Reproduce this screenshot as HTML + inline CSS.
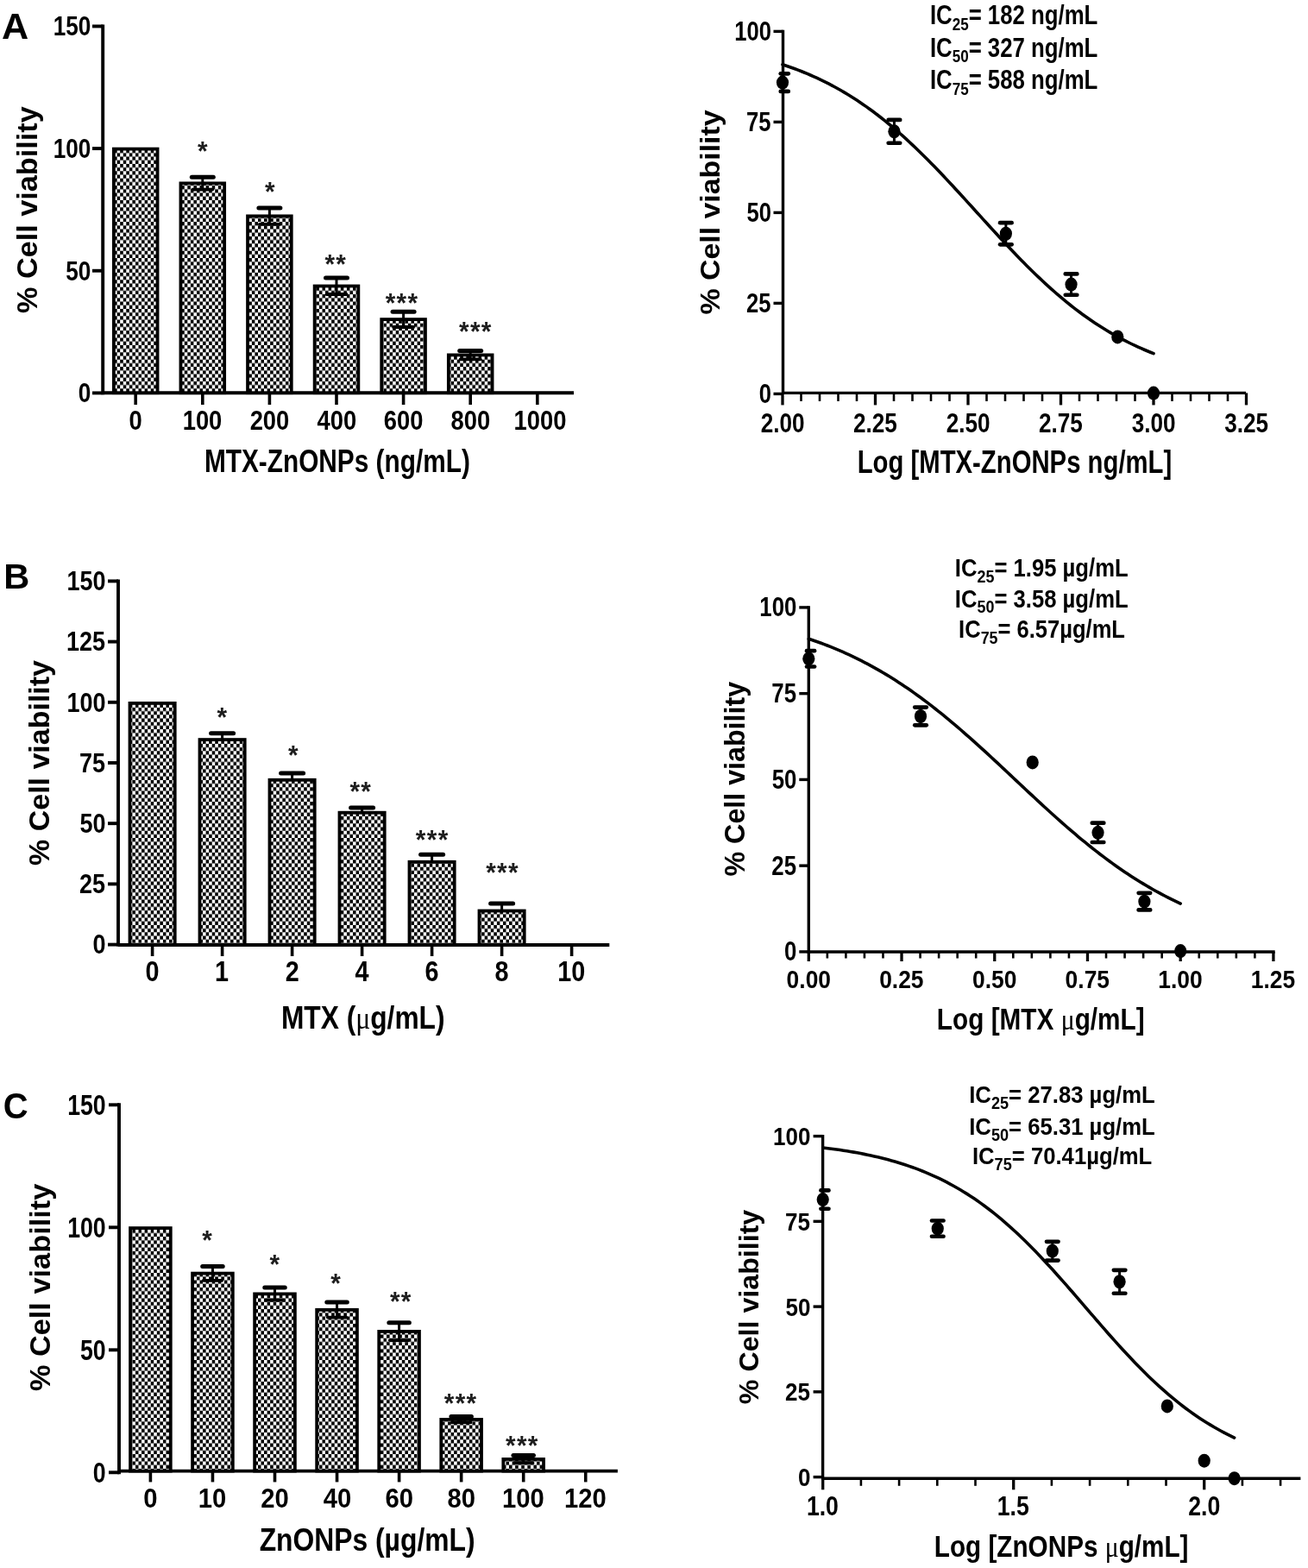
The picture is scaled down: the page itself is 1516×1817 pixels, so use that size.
<!DOCTYPE html>
<html><head><meta charset="utf-8"><title>Cell viability figure</title>
<style>
html,body{margin:0;padding:0;background:#fff;}
svg{display:block;}
svg text{font-family:"Liberation Sans",Arial,sans-serif;font-weight:bold;fill:#000;stroke:none;}
line,polyline{stroke:#000;}
</style></head>
<body>
<svg width="1516" height="1817" viewBox="0 0 1516 1817">
<defs>
<pattern id="chk" x="4.3" y="5.1" width="7.1" height="8.4" patternUnits="userSpaceOnUse">
<rect width="7.1" height="8.4" fill="#fff"/>
<rect x="0" y="0" width="3.55" height="4.2" fill="#000"/>
<rect x="3.55" y="4.2" width="3.55" height="4.2" fill="#000"/>
</pattern>
</defs>
<rect width="1516" height="1817" fill="#fff"/>
<g fill="#000">
<line x1="119.2" y1="28.5" x2="119.2" y2="457.35" stroke-width="3.9" stroke-linecap="butt"/>
<line x1="107" y1="455.4" x2="119.2" y2="455.4" stroke-width="3.9" stroke-linecap="butt"/>
<text x="90.72" y="466.44" font-size="32.2" textLength="14.53" lengthAdjust="spacingAndGlyphs">0</text>
<line x1="107" y1="313.75" x2="119.2" y2="313.75" stroke-width="3.9" stroke-linecap="butt"/>
<text x="76.2" y="324.79" font-size="32.2" textLength="29.05" lengthAdjust="spacingAndGlyphs">50</text>
<line x1="107" y1="172.1" x2="119.2" y2="172.1" stroke-width="3.9" stroke-linecap="butt"/>
<text x="61.68" y="183.14" font-size="32.2" textLength="43.58" lengthAdjust="spacingAndGlyphs">100</text>
<line x1="107" y1="30.45" x2="119.2" y2="30.45" stroke-width="3.9" stroke-linecap="butt"/>
<text x="61.68" y="41.49" font-size="32.2" textLength="43.58" lengthAdjust="spacingAndGlyphs">150</text>
<line x1="119.2" y1="455.2" x2="665" y2="455.2" stroke-width="3.9" stroke-linecap="butt"/>
<line x1="157.2" y1="455.2" x2="157.2" y2="469" stroke-width="3.6" stroke-linecap="butt"/>
<text x="149.6" y="497.5" font-size="32.2" textLength="15.23" lengthAdjust="spacingAndGlyphs">0</text>
<line x1="234.8" y1="455.2" x2="234.8" y2="469" stroke-width="3.6" stroke-linecap="butt"/>
<text x="211.66" y="497.5" font-size="32.2" textLength="45.68" lengthAdjust="spacingAndGlyphs">100</text>
<line x1="312.4" y1="455.2" x2="312.4" y2="469" stroke-width="3.6" stroke-linecap="butt"/>
<text x="289.65" y="497.5" font-size="32.2" textLength="45.68" lengthAdjust="spacingAndGlyphs">200</text>
<line x1="390" y1="455.2" x2="390" y2="469" stroke-width="3.6" stroke-linecap="butt"/>
<text x="367.51" y="497.5" font-size="32.2" textLength="45.68" lengthAdjust="spacingAndGlyphs">400</text>
<line x1="467.6" y1="455.2" x2="467.6" y2="469" stroke-width="3.6" stroke-linecap="butt"/>
<text x="444.82" y="497.5" font-size="32.2" textLength="45.68" lengthAdjust="spacingAndGlyphs">600</text>
<line x1="545.2" y1="455.2" x2="545.2" y2="469" stroke-width="3.6" stroke-linecap="butt"/>
<text x="522.49" y="497.5" font-size="32.2" textLength="45.68" lengthAdjust="spacingAndGlyphs">800</text>
<line x1="622.8" y1="455.2" x2="622.8" y2="469" stroke-width="3.6" stroke-linecap="butt"/>
<text x="595.55" y="497.5" font-size="32.2" textLength="60.91" lengthAdjust="spacingAndGlyphs">1000</text>
<rect x="131.85" y="172.6" width="50.7" height="282.6" fill="url(#chk)" stroke="#000" stroke-width="3.8"/>
<rect x="209.45" y="212.4" width="50.7" height="242.8" fill="url(#chk)" stroke="#000" stroke-width="3.8"/>
<line x1="234.8" y1="205.2" x2="234.8" y2="219.6" stroke-width="3" stroke-linecap="butt"/>
<line x1="223.3" y1="219.6" x2="246.3" y2="219.6" stroke-width="3.8" stroke-linecap="round"/>
<line x1="222.3" y1="205.2" x2="247.3" y2="205.2" stroke-width="5" stroke-linecap="round"/>
<text transform="scale(0.93 1)" x="246.22" y="185.73" font-size="32" style="fill:#1e1e1e">*</text>
<rect x="287.05" y="250.4" width="50.7" height="204.8" fill="url(#chk)" stroke="#000" stroke-width="3.8"/>
<line x1="312.4" y1="240.9" x2="312.4" y2="259.9" stroke-width="3" stroke-linecap="butt"/>
<line x1="300.9" y1="259.9" x2="323.9" y2="259.9" stroke-width="3.8" stroke-linecap="round"/>
<line x1="299.9" y1="240.9" x2="324.9" y2="240.9" stroke-width="5" stroke-linecap="round"/>
<text transform="scale(0.93 1)" x="330.2" y="232.83" font-size="32" style="fill:#1e1e1e">*</text>
<rect x="364.65" y="331.5" width="50.7" height="123.7" fill="url(#chk)" stroke="#000" stroke-width="3.8"/>
<line x1="390" y1="322" x2="390" y2="341" stroke-width="3" stroke-linecap="butt"/>
<line x1="378.5" y1="341" x2="401.5" y2="341" stroke-width="3.8" stroke-linecap="round"/>
<line x1="377.5" y1="322" x2="402.5" y2="322" stroke-width="5" stroke-linecap="round"/>
<text transform="scale(0.93 1)" x="404.77 418.64" y="317.23" font-size="32" style="fill:#1e1e1e">**</text>
<rect x="442.25" y="370.1" width="50.7" height="85.1" fill="url(#chk)" stroke="#000" stroke-width="3.8"/>
<line x1="467.6" y1="361.2" x2="467.6" y2="379" stroke-width="3" stroke-linecap="butt"/>
<line x1="456.1" y1="379" x2="479.1" y2="379" stroke-width="3.8" stroke-linecap="round"/>
<line x1="455.1" y1="361.2" x2="480.1" y2="361.2" stroke-width="5" stroke-linecap="round"/>
<text transform="scale(0.93 1)" x="480.3 494.17 508.05" y="361.83" font-size="32" style="fill:#1e1e1e">***</text>
<rect x="519.85" y="411.4" width="50.7" height="43.8" fill="url(#chk)" stroke="#000" stroke-width="3.8"/>
<line x1="545.2" y1="406.5" x2="545.2" y2="416.3" stroke-width="3" stroke-linecap="butt"/>
<line x1="533.7" y1="416.3" x2="556.7" y2="416.3" stroke-width="3.8" stroke-linecap="round"/>
<line x1="532.7" y1="406.5" x2="557.7" y2="406.5" stroke-width="5" stroke-linecap="round"/>
<text transform="scale(0.93 1)" x="572.13 586 599.87" y="395.23" font-size="32" style="fill:#1e1e1e">***</text>
<text x="236.93" y="547.3" font-size="36.3" textLength="307.93" lengthAdjust="spacingAndGlyphs">MTX-ZnONPs (ng/mL)</text>
<text transform="translate(43.3 362.92) rotate(-90)" font-size="32.7" textLength="239.61" lengthAdjust="spacingAndGlyphs">% Cell viability</text>
<text x="1.96" y="45.3" font-size="43" textLength="31.17" lengthAdjust="spacingAndGlyphs">A</text>
<line x1="907.5" y1="34.7" x2="907.5" y2="457.1" stroke-width="3.4" stroke-linecap="butt"/>
<line x1="896.5" y1="456.4" x2="907.5" y2="456.4" stroke-width="3.4" stroke-linecap="butt"/>
<text x="879.69" y="467.17" font-size="31.4" textLength="14.24" lengthAdjust="spacingAndGlyphs">0</text>
<line x1="896.5" y1="351.4" x2="907.5" y2="351.4" stroke-width="3.4" stroke-linecap="butt"/>
<text x="865.12" y="362.17" font-size="31.4" textLength="28.48" lengthAdjust="spacingAndGlyphs">25</text>
<line x1="896.5" y1="246.4" x2="907.5" y2="246.4" stroke-width="3.4" stroke-linecap="butt"/>
<text x="865.45" y="257.17" font-size="31.4" textLength="28.48" lengthAdjust="spacingAndGlyphs">50</text>
<line x1="896.5" y1="141.4" x2="907.5" y2="141.4" stroke-width="3.4" stroke-linecap="butt"/>
<text x="865.12" y="152.17" font-size="31.4" textLength="28.48" lengthAdjust="spacingAndGlyphs">75</text>
<line x1="896.5" y1="36.4" x2="907.5" y2="36.4" stroke-width="3.4" stroke-linecap="butt"/>
<text x="851.21" y="47.17" font-size="31.4" textLength="42.72" lengthAdjust="spacingAndGlyphs">100</text>
<line x1="907.5" y1="455.4" x2="1444" y2="455.4" stroke-width="3.4" stroke-linecap="butt"/>
<line x1="928.5" y1="455.4" x2="928.5" y2="464.9" stroke-width="2.6" stroke-linecap="butt"/>
<line x1="950" y1="455.4" x2="950" y2="464.9" stroke-width="2.6" stroke-linecap="butt"/>
<line x1="971.5" y1="455.4" x2="971.5" y2="464.9" stroke-width="2.6" stroke-linecap="butt"/>
<line x1="993" y1="455.4" x2="993" y2="464.9" stroke-width="2.6" stroke-linecap="butt"/>
<line x1="1036" y1="455.4" x2="1036" y2="464.9" stroke-width="2.6" stroke-linecap="butt"/>
<line x1="1057.5" y1="455.4" x2="1057.5" y2="464.9" stroke-width="2.6" stroke-linecap="butt"/>
<line x1="1079" y1="455.4" x2="1079" y2="464.9" stroke-width="2.6" stroke-linecap="butt"/>
<line x1="1100.5" y1="455.4" x2="1100.5" y2="464.9" stroke-width="2.6" stroke-linecap="butt"/>
<line x1="1143.5" y1="455.4" x2="1143.5" y2="464.9" stroke-width="2.6" stroke-linecap="butt"/>
<line x1="1165" y1="455.4" x2="1165" y2="464.9" stroke-width="2.6" stroke-linecap="butt"/>
<line x1="1186.5" y1="455.4" x2="1186.5" y2="464.9" stroke-width="2.6" stroke-linecap="butt"/>
<line x1="1208" y1="455.4" x2="1208" y2="464.9" stroke-width="2.6" stroke-linecap="butt"/>
<line x1="1251" y1="455.4" x2="1251" y2="464.9" stroke-width="2.6" stroke-linecap="butt"/>
<line x1="1272.5" y1="455.4" x2="1272.5" y2="464.9" stroke-width="2.6" stroke-linecap="butt"/>
<line x1="1294" y1="455.4" x2="1294" y2="464.9" stroke-width="2.6" stroke-linecap="butt"/>
<line x1="1315.5" y1="455.4" x2="1315.5" y2="464.9" stroke-width="2.6" stroke-linecap="butt"/>
<line x1="1358.5" y1="455.4" x2="1358.5" y2="464.9" stroke-width="2.6" stroke-linecap="butt"/>
<line x1="1380" y1="455.4" x2="1380" y2="464.9" stroke-width="2.6" stroke-linecap="butt"/>
<line x1="1401.5" y1="455.4" x2="1401.5" y2="464.9" stroke-width="2.6" stroke-linecap="butt"/>
<line x1="1423" y1="455.4" x2="1423" y2="464.9" stroke-width="2.6" stroke-linecap="butt"/>
<line x1="907" y1="455.4" x2="907" y2="469.4" stroke-width="3.3" stroke-linecap="butt"/>
<text x="881.66" y="501.4" font-size="31.4" textLength="50.84" lengthAdjust="spacingAndGlyphs">2.00</text>
<line x1="1014.5" y1="455.4" x2="1014.5" y2="469.4" stroke-width="3.3" stroke-linecap="butt"/>
<text x="988.99" y="501.4" font-size="31.4" textLength="50.84" lengthAdjust="spacingAndGlyphs">2.25</text>
<line x1="1122" y1="455.4" x2="1122" y2="469.4" stroke-width="3.3" stroke-linecap="butt"/>
<text x="1096.66" y="501.4" font-size="31.4" textLength="50.84" lengthAdjust="spacingAndGlyphs">2.50</text>
<line x1="1229.5" y1="455.4" x2="1229.5" y2="469.4" stroke-width="3.3" stroke-linecap="butt"/>
<text x="1203.99" y="501.4" font-size="31.4" textLength="50.84" lengthAdjust="spacingAndGlyphs">2.75</text>
<line x1="1337" y1="455.4" x2="1337" y2="469.4" stroke-width="3.3" stroke-linecap="butt"/>
<text x="1311.82" y="501.4" font-size="31.4" textLength="50.84" lengthAdjust="spacingAndGlyphs">3.00</text>
<line x1="1444.5" y1="455.4" x2="1444.5" y2="469.4" stroke-width="3.3" stroke-linecap="butt"/>
<text x="1419.15" y="501.4" font-size="31.4" textLength="50.84" lengthAdjust="spacingAndGlyphs">3.25</text>
<polyline points="907,74.78 910.58,75.97 914.17,77.2 917.75,78.47 921.33,79.78 924.92,81.13 928.5,82.53 932.08,83.97 935.67,85.45 939.25,86.98 942.83,88.56 946.42,90.19 950,91.86 953.58,93.58 957.17,95.36 960.75,97.19 964.33,99.06 967.92,101 971.5,102.98 975.08,105.02 978.67,107.12 982.25,109.27 985.83,111.48 989.42,113.75 993,116.07 996.58,118.45 1000.17,120.89 1003.75,123.39 1007.33,125.95 1010.92,128.57 1014.5,131.24 1018.08,133.98 1021.67,136.77 1025.25,139.62 1028.83,142.53 1032.42,145.5 1036,148.53 1039.58,151.61 1043.17,154.75 1046.75,157.94 1050.33,161.19 1053.92,164.49 1057.5,167.84 1061.08,171.24 1064.67,174.69 1068.25,178.18 1071.83,181.72 1075.42,185.31 1079,188.94 1082.58,192.6 1086.17,196.3 1089.75,200.04 1093.33,203.81 1096.92,207.62 1100.5,211.44 1104.08,215.3 1107.67,219.17 1111.25,223.07 1114.83,226.98 1118.42,230.91 1122,234.85 1125.58,238.8 1129.17,242.75 1132.75,246.7 1136.33,250.65 1139.92,254.6 1143.5,258.55 1147.08,262.48 1150.67,266.4 1154.25,270.3 1157.83,274.19 1161.42,278.06 1165,281.9 1168.58,285.72 1172.17,289.5 1175.75,293.26 1179.33,296.98 1182.92,300.67 1186.5,304.31 1190.08,307.92 1193.67,311.48 1197.25,315 1200.83,318.48 1204.42,321.9 1208,325.28 1211.58,328.61 1215.17,331.88 1218.75,335.1 1222.33,338.27 1225.92,341.38 1229.5,344.43 1233.08,347.43 1236.67,350.37 1240.25,353.26 1243.83,356.08 1247.42,358.85 1251,361.55 1254.58,364.2 1258.17,366.79 1261.75,369.32 1265.33,371.79 1268.92,374.2 1272.5,376.56 1276.08,378.85 1279.67,381.09 1283.25,383.27 1286.83,385.4 1290.42,387.47 1294,389.48 1297.58,391.44 1301.17,393.35 1304.75,395.2 1308.33,397 1311.92,398.75 1315.5,400.45 1319.08,402.1 1322.67,403.7 1326.25,405.26 1329.83,406.77 1333.42,408.23 1337,409.65" fill="none" stroke-width="3.6" stroke-linejoin="round" stroke-linecap="round"/>
<line x1="907" y1="85.33" x2="907" y2="105.91" stroke-width="3" stroke-linecap="butt"/>
<line x1="904.7" y1="85.33" x2="913.8" y2="85.33" stroke-width="4.6" stroke-linecap="round"/>
<line x1="904.7" y1="105.91" x2="913.8" y2="105.91" stroke-width="4.6" stroke-linecap="round"/>
<ellipse cx="907" cy="95.62" rx="7.1" ry="8"/>
<line x1="1036.43" y1="138.88" x2="1036.43" y2="165.76" stroke-width="3" stroke-linecap="butt"/>
<line x1="1029.63" y1="138.88" x2="1043.23" y2="138.88" stroke-width="4.6" stroke-linecap="round"/>
<line x1="1029.63" y1="165.76" x2="1043.23" y2="165.76" stroke-width="4.6" stroke-linecap="round"/>
<ellipse cx="1036.43" cy="152.32" rx="7.1" ry="8"/>
<line x1="1165.86" y1="258.16" x2="1165.86" y2="283.36" stroke-width="3" stroke-linecap="butt"/>
<line x1="1159.06" y1="258.16" x2="1172.66" y2="258.16" stroke-width="4.6" stroke-linecap="round"/>
<line x1="1159.06" y1="283.36" x2="1172.66" y2="283.36" stroke-width="4.6" stroke-linecap="round"/>
<ellipse cx="1165.86" cy="270.76" rx="7.1" ry="8"/>
<line x1="1241.54" y1="317.38" x2="1241.54" y2="341.74" stroke-width="3" stroke-linecap="butt"/>
<line x1="1234.74" y1="317.38" x2="1248.34" y2="317.38" stroke-width="4.6" stroke-linecap="round"/>
<line x1="1234.74" y1="341.74" x2="1248.34" y2="341.74" stroke-width="4.6" stroke-linecap="round"/>
<ellipse cx="1241.54" cy="329.56" rx="7.1" ry="8"/>
<ellipse cx="1295.29" cy="390.46" rx="7.1" ry="8"/>
<ellipse cx="1337" cy="455.56" rx="7.1" ry="8"/>
<text transform="translate(1077.9 28.2) scale(0.8268 1)" font-size="31.2">IC<tspan font-size="20.6" dy="6.4">25</tspan><tspan dy="-6.4">= 182 ng/mL</tspan></text>
<text transform="translate(1077.9 65.7) scale(0.8268 1)" font-size="31.2">IC<tspan font-size="20.6" dy="6.4">50</tspan><tspan dy="-6.4">= 327 ng/mL</tspan></text>
<text transform="translate(1077.9 103.4) scale(0.8268 1)" font-size="31.2">IC<tspan font-size="20.6" dy="6.4">75</tspan><tspan dy="-6.4">= 588 ng/mL</tspan></text>
<text x="993.67" y="548" font-size="36.8" textLength="364.59" lengthAdjust="spacingAndGlyphs">Log [MTX-ZnONPs ng/mL]</text>
<text transform="translate(833.8 364.61) rotate(-90)" font-size="32" textLength="237.2" lengthAdjust="spacingAndGlyphs">% Cell viability</text>
<line x1="137" y1="671.45" x2="137" y2="1096.55" stroke-width="3.9" stroke-linecap="butt"/>
<line x1="125" y1="1094.6" x2="137" y2="1094.6" stroke-width="3.9" stroke-linecap="butt"/>
<text x="107.46" y="1105.44" font-size="31.6" textLength="15.02" lengthAdjust="spacingAndGlyphs">0</text>
<line x1="125" y1="1024.4" x2="137" y2="1024.4" stroke-width="3.9" stroke-linecap="butt"/>
<text x="92.09" y="1035.24" font-size="31.6" textLength="30.05" lengthAdjust="spacingAndGlyphs">25</text>
<line x1="125" y1="954.2" x2="137" y2="954.2" stroke-width="3.9" stroke-linecap="butt"/>
<text x="92.44" y="965.04" font-size="31.6" textLength="30.05" lengthAdjust="spacingAndGlyphs">50</text>
<line x1="125" y1="884" x2="137" y2="884" stroke-width="3.9" stroke-linecap="butt"/>
<text x="92.09" y="894.84" font-size="31.6" textLength="30.05" lengthAdjust="spacingAndGlyphs">75</text>
<line x1="125" y1="813.8" x2="137" y2="813.8" stroke-width="3.9" stroke-linecap="butt"/>
<text x="77.43" y="824.64" font-size="31.6" textLength="45.07" lengthAdjust="spacingAndGlyphs">100</text>
<line x1="125" y1="743.6" x2="137" y2="743.6" stroke-width="3.9" stroke-linecap="butt"/>
<text x="77.07" y="754.44" font-size="31.6" textLength="45.07" lengthAdjust="spacingAndGlyphs">125</text>
<line x1="125" y1="673.4" x2="137" y2="673.4" stroke-width="3.9" stroke-linecap="butt"/>
<text x="77.43" y="684.24" font-size="31.6" textLength="45.07" lengthAdjust="spacingAndGlyphs">150</text>
<line x1="137" y1="1095" x2="706.3" y2="1095" stroke-width="3.9" stroke-linecap="butt"/>
<line x1="176.6" y1="1095" x2="176.6" y2="1108" stroke-width="3.6" stroke-linecap="butt"/>
<text x="168.6" y="1137" font-size="32.3" textLength="16.02" lengthAdjust="spacingAndGlyphs">0</text>
<line x1="257.6" y1="1095" x2="257.6" y2="1108" stroke-width="3.6" stroke-linecap="butt"/>
<text x="249.09" y="1137" font-size="32.3" textLength="16.02" lengthAdjust="spacingAndGlyphs">1</text>
<line x1="338.6" y1="1095" x2="338.6" y2="1108" stroke-width="3.6" stroke-linecap="butt"/>
<text x="330.66" y="1137" font-size="32.3" textLength="16.02" lengthAdjust="spacingAndGlyphs">2</text>
<line x1="419.6" y1="1095" x2="419.6" y2="1108" stroke-width="3.6" stroke-linecap="butt"/>
<text x="411.45" y="1137" font-size="32.3" textLength="16.02" lengthAdjust="spacingAndGlyphs">4</text>
<line x1="500.6" y1="1095" x2="500.6" y2="1108" stroke-width="3.6" stroke-linecap="butt"/>
<text x="492.58" y="1137" font-size="32.3" textLength="16.02" lengthAdjust="spacingAndGlyphs">6</text>
<line x1="581.6" y1="1095" x2="581.6" y2="1108" stroke-width="3.6" stroke-linecap="butt"/>
<text x="573.58" y="1137" font-size="32.3" textLength="16.02" lengthAdjust="spacingAndGlyphs">8</text>
<line x1="662.6" y1="1095" x2="662.6" y2="1108" stroke-width="3.6" stroke-linecap="butt"/>
<text x="646.26" y="1137" font-size="32.3" textLength="32.05" lengthAdjust="spacingAndGlyphs">10</text>
<rect x="150.5" y="814.9" width="52.2" height="280.1" fill="url(#chk)" stroke="#000" stroke-width="3.8"/>
<rect x="231.5" y="857.1" width="52.2" height="237.9" fill="url(#chk)" stroke="#000" stroke-width="3.8"/>
<line x1="257.6" y1="849.8" x2="257.6" y2="857.1" stroke-width="3" stroke-linecap="butt"/>
<line x1="244.6" y1="849.8" x2="270.6" y2="849.8" stroke-width="5" stroke-linecap="round"/>
<text transform="scale(0.93 1)" x="270.52" y="841.83" font-size="32" style="fill:#1e1e1e">*</text>
<rect x="312.5" y="903.8" width="52.2" height="191.2" fill="url(#chk)" stroke="#000" stroke-width="3.8"/>
<line x1="338.6" y1="896" x2="338.6" y2="903.8" stroke-width="3" stroke-linecap="butt"/>
<line x1="325.6" y1="896" x2="351.6" y2="896" stroke-width="5" stroke-linecap="round"/>
<text transform="scale(0.93 1)" x="359.12" y="885.53" font-size="32" style="fill:#1e1e1e">*</text>
<rect x="393.5" y="941.7" width="52.2" height="153.3" fill="url(#chk)" stroke="#000" stroke-width="3.8"/>
<line x1="419.6" y1="936" x2="419.6" y2="941.7" stroke-width="3" stroke-linecap="butt"/>
<line x1="406.6" y1="936" x2="432.6" y2="936" stroke-width="5" stroke-linecap="round"/>
<text transform="scale(0.93 1)" x="435.95 449.82" y="928.43" font-size="32" style="fill:#1e1e1e">**</text>
<rect x="474.5" y="998.8" width="52.2" height="96.2" fill="url(#chk)" stroke="#000" stroke-width="3.8"/>
<line x1="500.6" y1="990.2" x2="500.6" y2="998.8" stroke-width="3" stroke-linecap="butt"/>
<line x1="487.6" y1="990.2" x2="513.6" y2="990.2" stroke-width="5" stroke-linecap="round"/>
<text transform="scale(0.93 1)" x="518.15 532.02 545.89" y="984.03" font-size="32" style="fill:#1e1e1e">***</text>
<rect x="555.5" y="1055.5" width="52.2" height="39.5" fill="url(#chk)" stroke="#000" stroke-width="3.8"/>
<line x1="581.6" y1="1047.1" x2="581.6" y2="1055.5" stroke-width="3" stroke-linecap="butt"/>
<line x1="568.6" y1="1047.1" x2="594.6" y2="1047.1" stroke-width="5" stroke-linecap="round"/>
<text transform="scale(0.93 1)" x="605.57 619.44 633.31" y="1022.33" font-size="32" style="fill:#1e1e1e">***</text>
<text x="325.92" y="1191.6" font-size="36.5" textLength="189.61" lengthAdjust="spacingAndGlyphs">MTX (<tspan style="font-family:'Liberation Serif',serif;font-weight:normal;stroke:none">μ</tspan>g/mL)</text>
<text transform="translate(57.3 1002.92) rotate(-90)" font-size="33" textLength="237.9" lengthAdjust="spacingAndGlyphs">% Cell viability</text>
<text x="4.36" y="681.7" font-size="41.4" textLength="30.02" lengthAdjust="spacingAndGlyphs">B</text>
<line x1="937.3" y1="702.2" x2="937.3" y2="1104.7" stroke-width="3.4" stroke-linecap="butt"/>
<line x1="926.3" y1="1102.9" x2="937.3" y2="1102.9" stroke-width="3.4" stroke-linecap="butt"/>
<text x="908.99" y="1113.46" font-size="30.8" textLength="14.35" lengthAdjust="spacingAndGlyphs">0</text>
<line x1="926.3" y1="1003.15" x2="937.3" y2="1003.15" stroke-width="3.4" stroke-linecap="butt"/>
<text x="894.31" y="1013.71" font-size="30.8" textLength="28.7" lengthAdjust="spacingAndGlyphs">25</text>
<line x1="926.3" y1="903.4" x2="937.3" y2="903.4" stroke-width="3.4" stroke-linecap="butt"/>
<text x="894.64" y="913.96" font-size="30.8" textLength="28.7" lengthAdjust="spacingAndGlyphs">50</text>
<line x1="926.3" y1="803.65" x2="937.3" y2="803.65" stroke-width="3.4" stroke-linecap="butt"/>
<text x="894.31" y="814.21" font-size="30.8" textLength="28.7" lengthAdjust="spacingAndGlyphs">75</text>
<line x1="926.3" y1="703.9" x2="937.3" y2="703.9" stroke-width="3.4" stroke-linecap="butt"/>
<text x="880.3" y="714.46" font-size="30.8" textLength="43.04" lengthAdjust="spacingAndGlyphs">100</text>
<line x1="937.3" y1="1103" x2="1477.7" y2="1103" stroke-width="3.4" stroke-linecap="butt"/>
<line x1="958.84" y1="1103" x2="958.84" y2="1110.5" stroke-width="2.6" stroke-linecap="butt"/>
<line x1="980.39" y1="1103" x2="980.39" y2="1110.5" stroke-width="2.6" stroke-linecap="butt"/>
<line x1="1001.93" y1="1103" x2="1001.93" y2="1110.5" stroke-width="2.6" stroke-linecap="butt"/>
<line x1="1023.48" y1="1103" x2="1023.48" y2="1110.5" stroke-width="2.6" stroke-linecap="butt"/>
<line x1="1066.57" y1="1103" x2="1066.57" y2="1110.5" stroke-width="2.6" stroke-linecap="butt"/>
<line x1="1088.12" y1="1103" x2="1088.12" y2="1110.5" stroke-width="2.6" stroke-linecap="butt"/>
<line x1="1109.66" y1="1103" x2="1109.66" y2="1110.5" stroke-width="2.6" stroke-linecap="butt"/>
<line x1="1131.2" y1="1103" x2="1131.2" y2="1110.5" stroke-width="2.6" stroke-linecap="butt"/>
<line x1="1174.3" y1="1103" x2="1174.3" y2="1110.5" stroke-width="2.6" stroke-linecap="butt"/>
<line x1="1195.84" y1="1103" x2="1195.84" y2="1110.5" stroke-width="2.6" stroke-linecap="butt"/>
<line x1="1217.38" y1="1103" x2="1217.38" y2="1110.5" stroke-width="2.6" stroke-linecap="butt"/>
<line x1="1238.93" y1="1103" x2="1238.93" y2="1110.5" stroke-width="2.6" stroke-linecap="butt"/>
<line x1="1282.02" y1="1103" x2="1282.02" y2="1110.5" stroke-width="2.6" stroke-linecap="butt"/>
<line x1="1303.57" y1="1103" x2="1303.57" y2="1110.5" stroke-width="2.6" stroke-linecap="butt"/>
<line x1="1325.11" y1="1103" x2="1325.11" y2="1110.5" stroke-width="2.6" stroke-linecap="butt"/>
<line x1="1346.65" y1="1103" x2="1346.65" y2="1110.5" stroke-width="2.6" stroke-linecap="butt"/>
<line x1="1389.74" y1="1103" x2="1389.74" y2="1110.5" stroke-width="2.6" stroke-linecap="butt"/>
<line x1="1411.29" y1="1103" x2="1411.29" y2="1110.5" stroke-width="2.6" stroke-linecap="butt"/>
<line x1="1432.84" y1="1103" x2="1432.84" y2="1110.5" stroke-width="2.6" stroke-linecap="butt"/>
<line x1="1454.38" y1="1103" x2="1454.38" y2="1110.5" stroke-width="2.6" stroke-linecap="butt"/>
<line x1="937.3" y1="1103" x2="937.3" y2="1114" stroke-width="3.3" stroke-linecap="butt"/>
<text x="911.62" y="1144.7" font-size="30.2" textLength="51.39" lengthAdjust="spacingAndGlyphs">0.00</text>
<line x1="1045.02" y1="1103" x2="1045.02" y2="1114" stroke-width="3.3" stroke-linecap="butt"/>
<text x="1019.17" y="1144.7" font-size="30.2" textLength="51.39" lengthAdjust="spacingAndGlyphs">0.25</text>
<line x1="1152.75" y1="1103" x2="1152.75" y2="1114" stroke-width="3.3" stroke-linecap="butt"/>
<text x="1127.07" y="1144.7" font-size="30.2" textLength="51.39" lengthAdjust="spacingAndGlyphs">0.50</text>
<line x1="1260.47" y1="1103" x2="1260.47" y2="1114" stroke-width="3.3" stroke-linecap="butt"/>
<text x="1234.62" y="1144.7" font-size="30.2" textLength="51.39" lengthAdjust="spacingAndGlyphs">0.75</text>
<line x1="1368.2" y1="1103" x2="1368.2" y2="1114" stroke-width="3.3" stroke-linecap="butt"/>
<text x="1342.22" y="1144.7" font-size="30.2" textLength="51.39" lengthAdjust="spacingAndGlyphs">1.00</text>
<line x1="1475.92" y1="1103" x2="1475.92" y2="1114" stroke-width="3.3" stroke-linecap="butt"/>
<text x="1449.77" y="1144.7" font-size="30.2" textLength="51.39" lengthAdjust="spacingAndGlyphs">1.25</text>
<polyline points="937.3,740.24 940.89,741.45 944.48,742.7 948.07,743.98 951.66,745.29 955.25,746.63 958.84,748.02 962.44,749.43 966.03,750.89 969.62,752.38 973.21,753.91 976.8,755.47 980.39,757.08 983.98,758.72 987.57,760.41 991.16,762.13 994.75,763.89 998.34,765.7 1001.93,767.54 1005.53,769.43 1009.12,771.36 1012.71,773.33 1016.3,775.35 1019.89,777.4 1023.48,779.5 1027.07,781.64 1030.66,783.83 1034.25,786.06 1037.84,788.33 1041.43,790.65 1045.02,793.01 1048.62,795.41 1052.21,797.85 1055.8,800.34 1059.39,802.87 1062.98,805.44 1066.57,808.06 1070.16,810.71 1073.75,813.4 1077.34,816.14 1080.93,818.91 1084.52,821.73 1088.12,824.58 1091.71,827.47 1095.3,830.39 1098.89,833.35 1102.48,836.34 1106.07,839.37 1109.66,842.42 1113.25,845.51 1116.84,848.63 1120.43,851.78 1124.02,854.95 1127.61,858.14 1131.2,861.37 1134.8,864.61 1138.39,867.87 1141.98,871.15 1145.57,874.45 1149.16,877.77 1152.75,881.1 1156.34,884.44 1159.93,887.79 1163.52,891.15 1167.11,894.51 1170.7,897.88 1174.3,901.25 1177.89,904.63 1181.48,908 1185.07,911.37 1188.66,914.73 1192.25,918.09 1195.84,921.44 1199.43,924.78 1203.02,928.11 1206.61,931.42 1210.2,934.72 1213.79,938 1217.38,941.27 1220.98,944.51 1224.57,947.73 1228.16,950.92 1231.75,954.09 1235.34,957.24 1238.93,960.35 1242.52,963.44 1246.11,966.49 1249.7,969.52 1253.29,972.51 1256.88,975.46 1260.47,978.39 1264.07,981.27 1267.66,984.12 1271.25,986.93 1274.84,989.7 1278.43,992.43 1282.02,995.13 1285.61,997.78 1289.2,1000.39 1292.79,1002.96 1296.38,1005.49 1299.97,1007.97 1303.57,1010.41 1307.16,1012.81 1310.75,1015.17 1314.34,1017.48 1317.93,1019.75 1321.52,1021.98 1325.11,1024.16 1328.7,1026.3 1332.29,1028.4 1335.88,1030.45 1339.47,1032.46 1343.06,1034.43 1346.65,1036.36 1350.25,1038.24 1353.84,1040.08 1357.43,1041.89 1361.02,1043.65 1364.61,1045.37 1368.2,1047.05" fill="none" stroke-width="3.6" stroke-linejoin="round" stroke-linecap="round"/>
<line x1="937.3" y1="754.17" x2="937.3" y2="772.53" stroke-width="3" stroke-linecap="butt"/>
<line x1="935" y1="754.17" x2="944.1" y2="754.17" stroke-width="4.6" stroke-linecap="round"/>
<line x1="935" y1="772.53" x2="944.1" y2="772.53" stroke-width="4.6" stroke-linecap="round"/>
<ellipse cx="937.3" cy="763.35" rx="7.1" ry="8"/>
<line x1="1067" y1="819.61" x2="1067" y2="840.36" stroke-width="3" stroke-linecap="butt"/>
<line x1="1060.2" y1="819.61" x2="1073.8" y2="819.61" stroke-width="4.6" stroke-linecap="round"/>
<line x1="1060.2" y1="840.36" x2="1073.8" y2="840.36" stroke-width="4.6" stroke-linecap="round"/>
<ellipse cx="1067" cy="829.98" rx="7.1" ry="8"/>
<ellipse cx="1196.7" cy="883.45" rx="7.1" ry="8"/>
<line x1="1272.54" y1="953.67" x2="1272.54" y2="976.02" stroke-width="3" stroke-linecap="butt"/>
<line x1="1265.74" y1="953.67" x2="1279.34" y2="953.67" stroke-width="4.6" stroke-linecap="round"/>
<line x1="1265.74" y1="976.02" x2="1279.34" y2="976.02" stroke-width="4.6" stroke-linecap="round"/>
<ellipse cx="1272.54" cy="964.85" rx="7.1" ry="8"/>
<line x1="1326.4" y1="1034.87" x2="1326.4" y2="1054.42" stroke-width="3" stroke-linecap="butt"/>
<line x1="1319.6" y1="1034.87" x2="1333.2" y2="1034.87" stroke-width="4.6" stroke-linecap="round"/>
<line x1="1319.6" y1="1054.42" x2="1333.2" y2="1054.42" stroke-width="4.6" stroke-linecap="round"/>
<ellipse cx="1326.4" cy="1044.65" rx="7.1" ry="8"/>
<ellipse cx="1368.2" cy="1102.1" rx="7.1" ry="8"/>
<text transform="translate(1106.81 668.3) scale(0.8975 1)" font-size="28.6">IC<tspan font-size="20" dy="6.5">25</tspan><tspan dy="-6.5">= 1.95 µg/mL</tspan></text>
<text transform="translate(1106.81 703.8) scale(0.8975 1)" font-size="28.6">IC<tspan font-size="20" dy="6.5">50</tspan><tspan dy="-6.5">= 3.58 µg/mL</tspan></text>
<text transform="translate(1111.11 739.2) scale(0.8930 1)" font-size="28.6">IC<tspan font-size="20" dy="6.5">75</tspan><tspan dy="-6.5">= 6.57µg/mL</tspan></text>
<text x="1085.85" y="1193" font-size="34.2" textLength="240.81" lengthAdjust="spacingAndGlyphs">Log [MTX <tspan style="font-family:'Liberation Serif',serif;font-weight:normal;stroke:none">μ</tspan>g/mL]</text>
<text transform="translate(862.8 1015.47) rotate(-90)" font-size="32.7" textLength="225.55" lengthAdjust="spacingAndGlyphs">% Cell viability</text>
<line x1="138" y1="1278.35" x2="138" y2="1708.25" stroke-width="3.9" stroke-linecap="butt"/>
<line x1="126" y1="1706.3" x2="138" y2="1706.3" stroke-width="3.9" stroke-linecap="butt"/>
<text x="107.83" y="1717.55" font-size="32.8" textLength="14.85" lengthAdjust="spacingAndGlyphs">0</text>
<line x1="126" y1="1564.3" x2="138" y2="1564.3" stroke-width="3.9" stroke-linecap="butt"/>
<text x="92.99" y="1575.55" font-size="32.8" textLength="29.69" lengthAdjust="spacingAndGlyphs">50</text>
<line x1="126" y1="1422.3" x2="138" y2="1422.3" stroke-width="3.9" stroke-linecap="butt"/>
<text x="78.15" y="1433.55" font-size="32.8" textLength="44.54" lengthAdjust="spacingAndGlyphs">100</text>
<line x1="126" y1="1280.3" x2="138" y2="1280.3" stroke-width="3.9" stroke-linecap="butt"/>
<text x="78.15" y="1291.55" font-size="32.8" textLength="44.54" lengthAdjust="spacingAndGlyphs">150</text>
<line x1="138" y1="1704.6" x2="715.9" y2="1704.6" stroke-width="3.9" stroke-linecap="butt"/>
<line x1="174.4" y1="1704.6" x2="174.4" y2="1717.4" stroke-width="3.6" stroke-linecap="butt"/>
<text x="166.28" y="1747" font-size="31.9" textLength="16.27" lengthAdjust="spacingAndGlyphs">0</text>
<line x1="246.45" y1="1704.6" x2="246.45" y2="1717.4" stroke-width="3.6" stroke-linecap="butt"/>
<text x="229.87" y="1747" font-size="31.9" textLength="32.53" lengthAdjust="spacingAndGlyphs">10</text>
<line x1="318.5" y1="1704.6" x2="318.5" y2="1717.4" stroke-width="3.6" stroke-linecap="butt"/>
<text x="302.33" y="1747" font-size="31.9" textLength="32.53" lengthAdjust="spacingAndGlyphs">20</text>
<line x1="390.55" y1="1704.6" x2="390.55" y2="1717.4" stroke-width="3.6" stroke-linecap="butt"/>
<text x="374.65" y="1747" font-size="31.9" textLength="32.53" lengthAdjust="spacingAndGlyphs">40</text>
<line x1="462.6" y1="1704.6" x2="462.6" y2="1717.4" stroke-width="3.6" stroke-linecap="butt"/>
<text x="446.4" y="1747" font-size="31.9" textLength="32.53" lengthAdjust="spacingAndGlyphs">60</text>
<line x1="534.65" y1="1704.6" x2="534.65" y2="1717.4" stroke-width="3.6" stroke-linecap="butt"/>
<text x="518.52" y="1747" font-size="31.9" textLength="32.53" lengthAdjust="spacingAndGlyphs">80</text>
<line x1="606.7" y1="1704.6" x2="606.7" y2="1717.4" stroke-width="3.6" stroke-linecap="butt"/>
<text x="581.99" y="1747" font-size="31.9" textLength="48.8" lengthAdjust="spacingAndGlyphs">100</text>
<line x1="678.75" y1="1704.6" x2="678.75" y2="1717.4" stroke-width="3.6" stroke-linecap="butt"/>
<text x="654.04" y="1747" font-size="31.9" textLength="48.8" lengthAdjust="spacingAndGlyphs">120</text>
<rect x="151.05" y="1423.1" width="46.7" height="281.5" fill="url(#chk)" stroke="#000" stroke-width="3.8"/>
<rect x="223.1" y="1475.6" width="46.7" height="229" fill="url(#chk)" stroke="#000" stroke-width="3.8"/>
<line x1="246.45" y1="1467.4" x2="246.45" y2="1483.8" stroke-width="3" stroke-linecap="butt"/>
<line x1="235.7" y1="1483.8" x2="257.2" y2="1483.8" stroke-width="3.8" stroke-linecap="round"/>
<line x1="234.7" y1="1467.4" x2="258.2" y2="1467.4" stroke-width="5" stroke-linecap="round"/>
<text transform="scale(0.93 1)" x="251.81" y="1448.23" font-size="32" style="fill:#1e1e1e">*</text>
<rect x="295.15" y="1499.4" width="46.7" height="205.2" fill="url(#chk)" stroke="#000" stroke-width="3.8"/>
<line x1="318.5" y1="1492.1" x2="318.5" y2="1506.7" stroke-width="3" stroke-linecap="butt"/>
<line x1="307.75" y1="1506.7" x2="329.25" y2="1506.7" stroke-width="3.8" stroke-linecap="round"/>
<line x1="306.75" y1="1492.1" x2="330.25" y2="1492.1" stroke-width="5" stroke-linecap="round"/>
<text transform="scale(0.93 1)" x="336" y="1476.43" font-size="32" style="fill:#1e1e1e">*</text>
<rect x="367.2" y="1517.8" width="46.7" height="186.8" fill="url(#chk)" stroke="#000" stroke-width="3.8"/>
<line x1="390.55" y1="1509" x2="390.55" y2="1526.6" stroke-width="3" stroke-linecap="butt"/>
<line x1="379.8" y1="1526.6" x2="401.3" y2="1526.6" stroke-width="3.8" stroke-linecap="round"/>
<line x1="378.8" y1="1509" x2="402.3" y2="1509" stroke-width="5" stroke-linecap="round"/>
<text transform="scale(0.93 1)" x="412.02" y="1497.63" font-size="32" style="fill:#1e1e1e">*</text>
<rect x="439.25" y="1542.9" width="46.7" height="161.7" fill="url(#chk)" stroke="#000" stroke-width="3.8"/>
<line x1="462.6" y1="1532.7" x2="462.6" y2="1553.1" stroke-width="3" stroke-linecap="butt"/>
<line x1="451.85" y1="1553.1" x2="473.35" y2="1553.1" stroke-width="3.8" stroke-linecap="round"/>
<line x1="450.85" y1="1532.7" x2="474.35" y2="1532.7" stroke-width="5" stroke-linecap="round"/>
<text transform="scale(0.93 1)" x="485.95 499.82" y="1519.43" font-size="32" style="fill:#1e1e1e">**</text>
<rect x="511.3" y="1644.9" width="46.7" height="59.7" fill="url(#chk)" stroke="#000" stroke-width="3.8"/>
<line x1="534.65" y1="1641.4" x2="534.65" y2="1648.4" stroke-width="3" stroke-linecap="butt"/>
<line x1="523.9" y1="1648.4" x2="545.4" y2="1648.4" stroke-width="3.8" stroke-linecap="round"/>
<line x1="522.9" y1="1641.4" x2="546.4" y2="1641.4" stroke-width="5" stroke-linecap="round"/>
<text transform="scale(0.93 1)" x="553.53 567.4 581.27" y="1637.13" font-size="32" style="fill:#1e1e1e">***</text>
<rect x="583.35" y="1690.9" width="46.7" height="13.7" fill="url(#chk)" stroke="#000" stroke-width="3.8"/>
<line x1="606.7" y1="1686.6" x2="606.7" y2="1695.2" stroke-width="3" stroke-linecap="butt"/>
<line x1="595.95" y1="1695.2" x2="617.45" y2="1695.2" stroke-width="3.8" stroke-linecap="round"/>
<line x1="594.95" y1="1686.6" x2="618.45" y2="1686.6" stroke-width="5" stroke-linecap="round"/>
<text transform="scale(0.93 1)" x="630.09 643.96 657.83" y="1686.43" font-size="32" style="fill:#1e1e1e">***</text>
<text x="300.68" y="1796.9" font-size="36.3" textLength="249.87" lengthAdjust="spacingAndGlyphs">ZnONPs (µg/mL)</text>
<text transform="translate(57.6 1612.12) rotate(-90)" font-size="32.7" textLength="240.41" lengthAdjust="spacingAndGlyphs">% Cell viability</text>
<text x="3.86" y="1296" font-size="42" textLength="28.93" lengthAdjust="spacingAndGlyphs">C</text>
<line x1="953.6" y1="1314.9" x2="953.6" y2="1715" stroke-width="3.4" stroke-linecap="butt"/>
<line x1="942.6" y1="1711.6" x2="953.6" y2="1711.6" stroke-width="3.4" stroke-linecap="butt"/>
<text x="924.89" y="1722.03" font-size="30.4" textLength="14.45" lengthAdjust="spacingAndGlyphs">0</text>
<line x1="942.6" y1="1612.85" x2="953.6" y2="1612.85" stroke-width="3.4" stroke-linecap="butt"/>
<text x="910.1" y="1623.28" font-size="30.4" textLength="28.91" lengthAdjust="spacingAndGlyphs">25</text>
<line x1="942.6" y1="1514.1" x2="953.6" y2="1514.1" stroke-width="3.4" stroke-linecap="butt"/>
<text x="910.44" y="1524.53" font-size="30.4" textLength="28.91" lengthAdjust="spacingAndGlyphs">50</text>
<line x1="942.6" y1="1415.35" x2="953.6" y2="1415.35" stroke-width="3.4" stroke-linecap="butt"/>
<text x="910.1" y="1425.78" font-size="30.4" textLength="28.91" lengthAdjust="spacingAndGlyphs">75</text>
<line x1="942.6" y1="1316.6" x2="953.6" y2="1316.6" stroke-width="3.4" stroke-linecap="butt"/>
<text x="895.99" y="1327.03" font-size="30.4" textLength="43.36" lengthAdjust="spacingAndGlyphs">100</text>
<line x1="953.6" y1="1713.3" x2="1507.4" y2="1713.3" stroke-width="3.4" stroke-linecap="butt"/>
<line x1="997.9" y1="1713.3" x2="997.9" y2="1721.8" stroke-width="2.6" stroke-linecap="butt"/>
<line x1="1042.1" y1="1713.3" x2="1042.1" y2="1721.8" stroke-width="2.6" stroke-linecap="butt"/>
<line x1="1086.3" y1="1713.3" x2="1086.3" y2="1721.8" stroke-width="2.6" stroke-linecap="butt"/>
<line x1="1130.5" y1="1713.3" x2="1130.5" y2="1721.8" stroke-width="2.6" stroke-linecap="butt"/>
<line x1="1218.9" y1="1713.3" x2="1218.9" y2="1721.8" stroke-width="2.6" stroke-linecap="butt"/>
<line x1="1263.1" y1="1713.3" x2="1263.1" y2="1721.8" stroke-width="2.6" stroke-linecap="butt"/>
<line x1="1307.3" y1="1713.3" x2="1307.3" y2="1721.8" stroke-width="2.6" stroke-linecap="butt"/>
<line x1="1351.5" y1="1713.3" x2="1351.5" y2="1721.8" stroke-width="2.6" stroke-linecap="butt"/>
<line x1="1439.9" y1="1713.3" x2="1439.9" y2="1721.8" stroke-width="2.6" stroke-linecap="butt"/>
<line x1="1484.1" y1="1713.3" x2="1484.1" y2="1721.8" stroke-width="2.6" stroke-linecap="butt"/>
<line x1="953.7" y1="1713.3" x2="953.7" y2="1726.3" stroke-width="3.3" stroke-linecap="butt"/>
<text x="934.9" y="1755.5" font-size="30.5" textLength="37.02" lengthAdjust="spacingAndGlyphs">1.0</text>
<line x1="1174.7" y1="1713.3" x2="1174.7" y2="1726.3" stroke-width="3.3" stroke-linecap="butt"/>
<text x="1155.73" y="1755.5" font-size="30.5" textLength="37.02" lengthAdjust="spacingAndGlyphs">1.5</text>
<line x1="1395.7" y1="1713.3" x2="1395.7" y2="1726.3" stroke-width="3.3" stroke-linecap="butt"/>
<text x="1377.27" y="1755.5" font-size="30.5" textLength="37.02" lengthAdjust="spacingAndGlyphs">2.0</text>
<polyline points="953.7,1329.96 957.67,1330.44 961.65,1330.94 965.62,1331.46 969.6,1332.01 973.57,1332.58 977.55,1333.18 981.52,1333.81 985.49,1334.46 989.47,1335.14 993.44,1335.85 997.42,1336.6 1001.39,1337.38 1005.37,1338.19 1009.34,1339.03 1013.31,1339.92 1017.29,1340.84 1021.26,1341.8 1025.24,1342.8 1029.21,1343.85 1033.19,1344.93 1037.16,1346.07 1041.13,1347.25 1045.11,1348.48 1049.08,1349.76 1053.06,1351.1 1057.03,1352.49 1061.01,1353.93 1064.98,1355.43 1068.96,1356.99 1072.93,1358.61 1076.9,1360.3 1080.88,1362.04 1084.85,1363.86 1088.83,1365.74 1092.8,1367.69 1096.78,1369.71 1100.75,1371.8 1104.72,1373.97 1108.7,1376.21 1112.67,1378.53 1116.65,1380.93 1120.62,1383.4 1124.6,1385.96 1128.57,1388.6 1132.54,1391.31 1136.52,1394.12 1140.49,1397 1144.47,1399.97 1148.44,1403.02 1152.42,1406.16 1156.39,1409.38 1160.36,1412.68 1164.34,1416.07 1168.31,1419.54 1172.29,1423.09 1176.26,1426.71 1180.24,1430.42 1184.21,1434.21 1188.18,1438.07 1192.16,1442 1196.13,1446 1200.11,1450.07 1204.08,1454.2 1208.06,1458.4 1212.03,1462.65 1216,1466.96 1219.98,1471.32 1223.95,1475.73 1227.93,1480.18 1231.9,1484.66 1235.88,1489.18 1239.85,1493.73 1243.83,1498.3 1247.8,1502.89 1251.77,1507.49 1255.75,1512.11 1259.72,1516.72 1263.7,1521.34 1267.67,1525.94 1271.65,1530.54 1275.62,1535.12 1279.59,1539.68 1283.57,1544.21 1287.54,1548.71 1291.52,1553.17 1295.49,1557.59 1299.47,1561.97 1303.44,1566.3 1307.41,1570.57 1311.39,1574.79 1315.36,1578.95 1319.34,1583.05 1323.31,1587.07 1327.29,1591.03 1331.26,1594.92 1335.23,1598.74 1339.21,1602.47 1343.18,1606.13 1347.16,1609.71 1351.13,1613.21 1355.11,1616.63 1359.08,1619.97 1363.05,1623.22 1367.03,1626.39 1371,1629.47 1374.98,1632.47 1378.95,1635.39 1382.93,1638.22 1386.9,1640.97 1390.87,1643.64 1394.85,1646.23 1398.82,1648.74 1402.8,1651.16 1406.77,1653.51 1410.75,1655.78 1414.72,1657.98 1418.7,1660.1 1422.67,1662.15 1426.64,1664.13 1430.62,1666.04" fill="none" stroke-width="3.6" stroke-linejoin="round" stroke-linecap="round"/>
<line x1="953.7" y1="1379.4" x2="953.7" y2="1400.73" stroke-width="3" stroke-linecap="butt"/>
<line x1="951.4" y1="1379.4" x2="960.5" y2="1379.4" stroke-width="4.6" stroke-linecap="round"/>
<line x1="951.4" y1="1400.73" x2="960.5" y2="1400.73" stroke-width="4.6" stroke-linecap="round"/>
<ellipse cx="953.7" cy="1390.07" rx="7.1" ry="8"/>
<line x1="1086.74" y1="1414.56" x2="1086.74" y2="1432.73" stroke-width="3" stroke-linecap="butt"/>
<line x1="1079.94" y1="1414.56" x2="1093.54" y2="1414.56" stroke-width="4.6" stroke-linecap="round"/>
<line x1="1079.94" y1="1432.73" x2="1093.54" y2="1432.73" stroke-width="4.6" stroke-linecap="round"/>
<ellipse cx="1086.74" cy="1423.64" rx="7.1" ry="8"/>
<line x1="1219.78" y1="1438.85" x2="1219.78" y2="1460.58" stroke-width="3" stroke-linecap="butt"/>
<line x1="1212.98" y1="1438.85" x2="1226.58" y2="1438.85" stroke-width="4.6" stroke-linecap="round"/>
<line x1="1212.98" y1="1460.58" x2="1226.58" y2="1460.58" stroke-width="4.6" stroke-linecap="round"/>
<ellipse cx="1219.78" cy="1449.71" rx="7.1" ry="8"/>
<line x1="1297.58" y1="1471.84" x2="1297.58" y2="1498.69" stroke-width="3" stroke-linecap="butt"/>
<line x1="1290.78" y1="1471.84" x2="1304.38" y2="1471.84" stroke-width="4.6" stroke-linecap="round"/>
<line x1="1290.78" y1="1498.69" x2="1304.38" y2="1498.69" stroke-width="4.6" stroke-linecap="round"/>
<ellipse cx="1297.58" cy="1485.26" rx="7.1" ry="8"/>
<ellipse cx="1352.83" cy="1629.44" rx="7.1" ry="8"/>
<ellipse cx="1395.7" cy="1692.64" rx="7.1" ry="8"/>
<ellipse cx="1430.62" cy="1713.18" rx="7.1" ry="8"/>
<text transform="translate(1123.2 1277.9) scale(0.9172 1)" font-size="28">IC<tspan font-size="19.8" dy="7">25</tspan><tspan dy="-7">= 27.83 µg/mL</tspan></text>
<text transform="translate(1123.2 1314.5) scale(0.9172 1)" font-size="28">IC<tspan font-size="19.8" dy="7">50</tspan><tspan dy="-7">= 65.31 µg/mL</tspan></text>
<text transform="translate(1126.91 1349.4) scale(0.9170 1)" font-size="28">IC<tspan font-size="19.8" dy="7">75</tspan><tspan dy="-7">= 70.41µg/mL</tspan></text>
<text x="1082.75" y="1803.8" font-size="34.4" textLength="294.71" lengthAdjust="spacingAndGlyphs">Log [ZnONPs <tspan style="font-family:'Liberation Serif',serif;font-weight:normal;stroke:none">μ</tspan>g/mL]</text>
<text transform="translate(879.1 1627.17) rotate(-90)" font-size="32" textLength="225.45" lengthAdjust="spacingAndGlyphs">% Cell viability</text>
</g>
</svg>
</body></html>
